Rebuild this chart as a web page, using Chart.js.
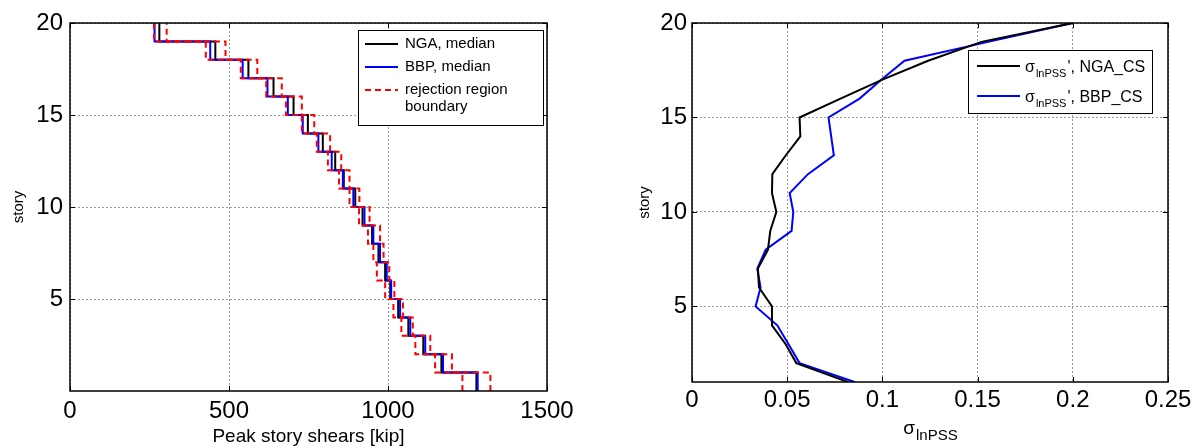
<!DOCTYPE html>
<html>
<head>
<meta charset="utf-8">
<script src="https://cdn.jsdelivr.net/npm/chart.js@4.4.0/dist/chart.umd.min.js"></script>
<style>
body { margin: 0; background: #fff; }
#leftBox { position: absolute; left: 0; top: 0; width: 600px; height: 448px; }
#rightBox { position: absolute; left: 600px; top: 0; width: 602px; height: 448px; }
</style>
</head>
<body>
<div id="leftBox"><canvas id="leftChart"></canvas></div>
<div id="rightBox"><canvas id="rightChart"></canvas></div>
<script>
// Data
var stories = [1, 2, 3, 4, 5, 6, 7, 8, 9, 10, 11, 12, 13, 14, 15, 16, 17, 18, 19, 20];

// peak story shears [kip], story 1 -> 20
var ngaMedian  = [1278, 1168, 1111, 1064, 1032, 1007, 991, 970, 950, 920, 897, 861, 834, 795, 748, 703, 640, 561, 457, 281];
var bbpMedian  = [1282, 1173, 1117, 1070, 1038, 1010, 996, 975, 954, 926, 891, 858, 823, 781, 732, 685, 621, 543, 441, 266];
var rejectLow  = [1234, 1148, 1086, 1042, 1017, 991, 965, 954, 937, 909, 879, 846, 811, 776, 729, 679, 617, 537, 427, 264];
var rejectHigh = [1322, 1201, 1133, 1078, 1047, 1020, 1004, 986, 975, 942, 910, 879, 853, 818, 768, 729, 666, 589, 489, 304];

// sigma lnPSS, story 1 -> 20
var ngaSigma = [0.0819, 0.0548, 0.0492, 0.0420, 0.0420, 0.0352, 0.0346, 0.0399, 0.0411, 0.0443, 0.0420, 0.0422, 0.0493, 0.0569, 0.0565, 0.0780, 0.1000, 0.1240, 0.1520, 0.2000];
var bbpSigma = [0.0854, 0.0565, 0.0507, 0.0448, 0.0334, 0.0360, 0.0343, 0.0387, 0.0523, 0.0532, 0.0513, 0.0609, 0.0745, 0.0731, 0.0717, 0.0880, 0.0994, 0.1116, 0.1555, 0.2000];

var leftXTicks = [0, 500, 1000, 1500];
var rightXTicks = [0, 0.05, 0.1, 0.15, 0.2, 0.25];
var storyTicks = [5, 10, 15, 20];

var leftLegendLabels = ['NGA, median', 'BBP, median', 'rejection region\nboundary'];
var rightLegendLabels = ['NGA_CS', 'BBP_CS'];

var FONT = '"Liberation Sans", Arial, sans-serif';

// stairs: story i drawn from i-1 to i at its value
function stairs(vals) {
  var pts = [];
  for (var i = 0; i < stories.length; i++) {
    pts.push({x: vals[i], y: stories[i] - 1});
  }
  pts.push({x: vals[vals.length - 1], y: stories[stories.length - 1]});
  return pts;
}

function profile(vals) {
  var pts = [];
  for (var i = 0; i < stories.length; i++) {
    pts.push({x: vals[i], y: stories[i]});
  }
  return pts;
}

function fixedTicks(list) {
  return function(scale) {
    scale.ticks = list.map(function(v) { return {value: v}; });
  };
}

var gridOpts = {color: '#9a9a9a', lineWidth: 1, drawTicks: false};
var borderOpts = {display: false, dash: [2, 2]};

// MATLAB style box with inner ticks
var axesBox = {
  id: 'axesBox',
  afterDatasetsDraw: function(chart) {
    var a = chart.chartArea, ctx = chart.ctx;
    var xs = chart.scales.x, ys = chart.scales.y;
    ctx.save();
    ctx.strokeStyle = '#000';
    ctx.lineWidth = 1;
    ctx.beginPath();
    xs.ticks.forEach(function(t) {
      var px = Math.round(xs.getPixelForValue(t.value)) + 0.5;
      ctx.moveTo(px, a.bottom); ctx.lineTo(px, a.bottom - 5);
      ctx.moveTo(px, a.top); ctx.lineTo(px, a.top + 5);
    });
    ys.ticks.forEach(function(t) {
      var py = Math.round(ys.getPixelForValue(t.value)) + 0.5;
      ctx.moveTo(a.left, py); ctx.lineTo(a.left + 5, py);
      ctx.moveTo(a.right, py); ctx.lineTo(a.right - 5, py);
    });
    ctx.stroke();
    ctx.lineWidth = 1.5;
    ctx.strokeRect(a.left, a.top, a.right - a.left, a.bottom - a.top);
    ctx.restore();
  }
};

function legendLine(ctx, ds, x1, x2, y) {
  ctx.save();
  ctx.strokeStyle = ds.borderColor;
  ctx.lineWidth = ds.borderWidth;
  ctx.setLineDash(ds.borderDash || []);
  ctx.beginPath();
  ctx.moveTo(x1, y); ctx.lineTo(x2, y);
  ctx.stroke();
  ctx.restore();
}

var leftLegend = {
  id: 'leftLegend',
  afterDraw: function(chart) {
    var ctx = chart.ctx, ds = chart.data.datasets;
    ctx.save();
    ctx.fillStyle = '#fff';
    ctx.fillRect(358, 30, 185, 95);
    ctx.strokeStyle = '#000';
    ctx.lineWidth = 1;
    ctx.strokeRect(358.5, 30.5, 185, 95);
    var rows = [{d: 3, y: 44}, {d: 2, y: 67}, {d: 0, y: 90}];
    ctx.font = '15px ' + FONT;
    ctx.fillStyle = '#000';
    ctx.textBaseline = 'middle';
    rows.forEach(function(r, i) {
      legendLine(ctx, ds[r.d], 365, 398, r.y);
      var lines = leftLegendLabels[i].split('\n');
      lines.forEach(function(t, k) {
        ctx.fillText(t, 405, r.y + k * 17);
      });
    });
    ctx.restore();
  }
};

// sigma with subscript lnPSS, then the rest of the text
function sigmaText(ctx, x, y, big, small, rest, align) {
  ctx.save();
  ctx.fillStyle = '#000';
  ctx.textBaseline = 'alphabetic';
  ctx.font = big + 'px ' + FONT;
  var w1 = ctx.measureText('\u03c3').width;
  var w3 = rest ? ctx.measureText(rest).width : 0;
  ctx.font = small + 'px ' + FONT;
  var w2 = ctx.measureText('lnPSS').width;
  var x0 = align === 'center' ? x - (w1 + w2 + w3) / 2 : x;
  ctx.font = big + 'px ' + FONT;
  ctx.fillText('\u03c3', x0, y);
  ctx.font = small + 'px ' + FONT;
  ctx.fillText('lnPSS', x0 + w1 + 1, y + Math.round(big * 0.3));
  if (rest) {
    ctx.font = big + 'px ' + FONT;
    ctx.fillText(rest, x0 + w1 + w2 + 2, y);
  }
  ctx.restore();
}

var rightExtras = {
  id: 'rightExtras',
  afterDraw: function(chart) {
    var ctx = chart.ctx, ds = chart.data.datasets, a = chart.chartArea;
    // x axis label
    sigmaText(ctx, (a.left + a.right) / 2, 434, 19, 15, '', 'center');
    // legend
    ctx.save();
    ctx.fillStyle = '#fff';
    ctx.fillRect(368, 50, 184, 63);
    ctx.strokeStyle = '#000';
    ctx.lineWidth = 1;
    ctx.strokeRect(368.5, 50.5, 184, 63);
    ctx.restore();
    var rows = [{d: 0, y: 66}, {d: 1, y: 96}];
    rows.forEach(function(r, i) {
      legendLine(ctx, ds[r.d], 377, 420, r.y);
      sigmaText(ctx, 425, r.y + 6, 16, 11, "', " + rightLegendLabels[i], 'left');
    });
  }
};

var leftChart = new Chart(document.getElementById('leftChart'), {
  type: 'line',
  data: {
    datasets: [
      {label: 'rejection region boundary', data: stairs(rejectLow), borderColor: '#ff0000', borderWidth: 2, borderDash: [6, 4], stepped: 'after'},
      {label: 'rejection region boundary (upper)', data: stairs(rejectHigh), borderColor: '#ff0000', borderWidth: 2, borderDash: [6, 4], stepped: 'after'},
      {label: 'BBP, median', data: stairs(bbpMedian), borderColor: '#0000ff', borderWidth: 2, stepped: 'after'},
      {label: 'NGA, median', data: stairs(ngaMedian), borderColor: '#000000', borderWidth: 2, stepped: 'after'}
    ]
  },
  options: {
    responsive: true,
    maintainAspectRatio: false,
    animation: false,
    layout: {padding: {top: 23, right: 53, left: 0, bottom: 0}},
    elements: {point: {radius: 0}, line: {tension: 0, fill: false}},
    plugins: {legend: {display: false}, tooltip: {enabled: false}},
    scales: {
      x: {
        type: 'linear', min: 0, max: 1500,
        afterBuildTicks: fixedTicks(leftXTicks),
        afterFit: function(s) { s.height = 57; },
        grid: gridOpts, border: borderOpts,
        ticks: {color: '#000', padding: 6, font: {size: 24, family: FONT}, maxRotation: 0,
          callback: function(v) { return String(v); }},
        title: {display: true, text: 'Peak story shears [kip]', color: '#000',
          font: {size: 19, family: FONT}, padding: {top: 0, bottom: 0}}
      },
      y: {
        type: 'linear', min: 0, max: 20,
        afterBuildTicks: fixedTicks(storyTicks),
        afterFit: function(s) { s.width = 70; },
        grid: gridOpts, border: borderOpts,
        ticks: {color: '#000', padding: 7, font: {size: 24, family: FONT},
          callback: function(v) { return String(v); }},
        title: {display: true, text: 'story', color: '#000',
          font: {size: 15, family: FONT}, padding: {top: 10, bottom: 0}}
      }
    }
  },
  plugins: [axesBox, leftLegend]
});

var rightChart = new Chart(document.getElementById('rightChart'), {
  type: 'line',
  data: {
    datasets: [
      {label: 'NGA_CS', data: profile(ngaSigma), borderColor: '#000000', borderWidth: 2},
      {label: 'BBP_CS', data: profile(bbpSigma), borderColor: '#0000ff', borderWidth: 2}
    ]
  },
  options: {
    responsive: true,
    maintainAspectRatio: false,
    animation: false,
    layout: {padding: {top: 23, right: 34, left: 0, bottom: 0}},
    elements: {point: {radius: 0}, line: {tension: 0, fill: false}},
    plugins: {legend: {display: false}, tooltip: {enabled: false}},
    scales: {
      x: {
        type: 'linear', min: 0, max: 0.25,
        afterBuildTicks: fixedTicks(rightXTicks),
        afterFit: function(s) { s.height = 66; },
        grid: gridOpts, border: borderOpts,
        ticks: {color: '#000', padding: 4, font: {size: 24, family: FONT}, maxRotation: 0,
          callback: function(v) { return String(v); }}
      },
      y: {
        type: 'linear', min: 1, max: 20,
        afterBuildTicks: fixedTicks(storyTicks),
        afterFit: function(s) { s.width = 92; },
        grid: gridOpts, border: borderOpts,
        ticks: {color: '#000', padding: 5, font: {size: 24, family: FONT},
          callback: function(v) { return String(v); }},
        title: {display: true, text: 'story', color: '#000',
          font: {size: 15, family: FONT}, padding: {top: 36, bottom: 0}}
      }
    }
  },
  plugins: [axesBox, rightExtras]
});
</script>
</body>
</html>
